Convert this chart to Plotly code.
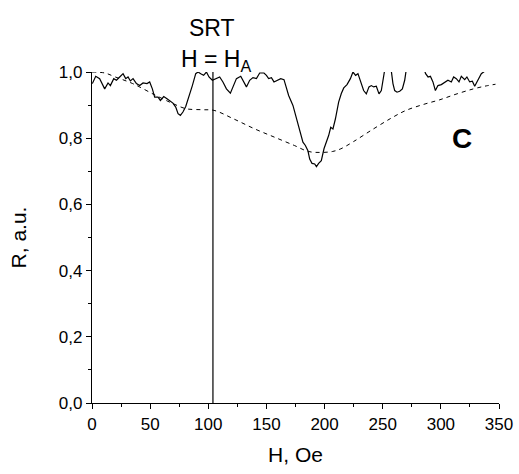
import plotly.graph_objects as go

# Measured reflectance (solid) vs field; None marks where the trace leaves the top of the frame
solid_h = [0.3, 0.9, 3.2, 6.6, 10.9, 13.8, 15.8, 18.7, 21, 23.8, 26.7, 29, 31, 33, 35.3, 38.2, 41, 43.9,
           47.3, 49.6, 51.9, 53.9, 56.8, 58.8, 61.7, 64.5, 67.4, 69.6, 72, 74, 76, 78.2, 80.6, 83.4, 86.3,
           89.2, 91.2, 93.5, 96, 98.4, 100.6, 103.5, 106.4, 109.8, 112.6, 115.6, 119, 121.2, 124.2, 127.9,
           130.7, 132.8, 135.6, 138.4, 141.4, 144.2, 147.9, 150, 151.9, 154.3, 156.5, 159.4, 162.3, 165.1,
           167.2, 169.1, 172.8, 175.8, 178.6, 181.4, 183.5, 185.7, 187.2, 189.2, 191.5, 193, 194.9, 197.2,
           199.5, 201.5, 203.5, 205.3, 207.2, 209.3, 212.1, 214.4, 216.5, 219.3, 222.2, 224.4, 226.7, 228.7,
           230.8, 233.6, 235.9, 238.2, 240.2, 242.2, 244.5, 246.8, 248.8, 250.2, 251.7, 252.8, None,
           256.4, 257.4, 258.8, 260.3, 262.3, 264.6, 266.9, 268.9, 270.3, 271.2, None,
           284.7, 285.2, 286.9, 289, 291, 293.2, 295.3, 297.5, 300.4, 303.3, 306.1, 309, 311, 313.3, 315.6,
           317.6, 320.5, 322.4, 324.8, 327.1, 329.1, 331, 332.8, 334.8, 336.8, 337.9]
solid_r = [0.965, 0.970, 0.987, 0.980, 0.949, 0.967, 0.959, 0.980, 0.975, 0.985, 0.995, 0.980, 0.985, 0.973,
           0.980, 0.965, 0.959, 0.967, 0.965, 0.970, 0.949, 0.924, 0.924, 0.914, 0.926, 0.919, 0.912, 0.906,
           0.894, 0.874, 0.869, 0.879, 0.896, 0.924, 0.959, 0.995, 1.000, 0.995, 0.990, 1.000, 0.985, 0.975,
           0.980, 0.985, 0.970, 0.949, 0.936, 0.955, 0.980, 0.987, 0.970, 0.955, 0.975, 0.983, 0.980, 0.997,
           0.997, 0.990, 0.980, 0.983, 0.970, 0.975, 0.980, 0.977, 0.955, 0.929, 0.899, 0.858, 0.818, 0.788,
           0.778, 0.762, 0.737, 0.724, 0.722, 0.714, 0.724, 0.732, 0.768, 0.788, 0.808, 0.833, 0.828, 0.858,
           0.909, 0.935, 0.952, 0.962, 0.980, 1.000, 0.990, 0.995, 0.975, 0.944, 0.934, 0.955, 0.959, 0.955,
           0.957, 0.934, 0.944, 0.975, 1.000, 1.030, None,
           1.030, 1.000, 0.965, 0.944, 0.939, 0.942, 0.949, 0.975, 1.000, 1.030, None,
           1.030, 1.012, 0.995, 0.985, 0.987, 0.970, 0.944, 0.959, 0.962, 0.970, 0.975, 0.970, 0.985, 0.980,
           0.970, 0.987, 0.977, 0.985, 0.970, 0.972, 0.957, 0.970, 0.980, 0.995, 1.000, 1.003]

# Dashed curve
fit_h = [0, 11, 20, 35, 55, 70, 81, 95, 105, 122, 140, 157, 174, 186, 197, 207, 214, 225, 242, 258, 270,
         285, 299, 313, 328, 339, 347]
fit_r = [1.0, 0.997, 0.985, 0.965, 0.929, 0.904, 0.889, 0.886, 0.884, 0.858, 0.828, 0.803, 0.778, 0.760,
         0.757, 0.760, 0.768, 0.790, 0.828, 0.862, 0.884, 0.902, 0.916, 0.933, 0.949, 0.958, 0.963]

srt_field = 104
x_ticks = [0, 50, 100, 150, 200, 250, 300, 350]
y_ticks = [0.0, 0.2, 0.4, 0.6, 0.8, 1.0]

FONT = "Arial, 'Liberation Sans', sans-serif"

fig = go.Figure()
fig.add_trace(go.Scatter(x=fit_h, y=fit_r, mode="lines",
                         line=dict(color="black", width=1, dash="4px,4px", shape="spline"),
                         hoverinfo="skip", showlegend=False))
fig.add_trace(go.Scatter(x=solid_h, y=solid_r, mode="lines", connectgaps=False,
                         line=dict(color="black", width=1.2),
                         showlegend=False))
fig.add_trace(go.Scatter(x=[srt_field, srt_field], y=[0, 1.0], mode="lines",
                         line=dict(color="black", width=1.2), showlegend=False, hoverinfo="skip"))

fig.update_layout(
    width=519, height=474, autosize=False,
    margin=dict(l=92, r=20, t=72, b=71, autoexpand=False),
    paper_bgcolor="white", plot_bgcolor="white",
    separators=",.",
    font=dict(family=FONT, color="black", size=17),
    xaxis=dict(range=[0, 350], tickvals=x_ticks, tickformat="d", automargin=False,
               showgrid=False, zeroline=False, showline=True, linecolor="black", linewidth=1.2,
               ticks="outside", ticklen=5, tickwidth=1.2, tickcolor="black",
               minor=dict(dtick=25, ticks="outside", ticklen=3, tickwidth=1.2, tickcolor="black"),
               tickfont=dict(size=17),
               title=dict(text="H, Oe", font=dict(size=21), standoff=14)),
    yaxis=dict(range=[0, 1.0], tickvals=y_ticks, tickformat=".1f", automargin=False,
               showgrid=False, zeroline=False, showline=True, linecolor="black", linewidth=1.2,
               ticks="outside", ticklen=5, tickwidth=1.2, tickcolor="black",
               minor=dict(dtick=0.1, ticks="outside", ticklen=3, tickwidth=1.2, tickcolor="black"),
               tickfont=dict(size=17),
               title=dict(text="R, a.u.", font=dict(size=21), standoff=26)),
    annotations=[
        dict(text="SRT", x=srt_field - 1, y=1.133, xref="x", yref="paper", showarrow=False,
             xanchor="center", yanchor="middle", font=dict(size=23)),
        dict(text="H = H<sub>A</sub>", x=srt_field + 3, y=1.035, xref="x", yref="paper", showarrow=False,
             xanchor="center", yanchor="middle", font=dict(size=23)),
        dict(text="<b>C</b>", x=318, y=0.80, xref="x", yref="y", showarrow=False,
             xanchor="center", yanchor="middle", font=dict(size=28)),
    ],
)

fig.write_html("out.html")
